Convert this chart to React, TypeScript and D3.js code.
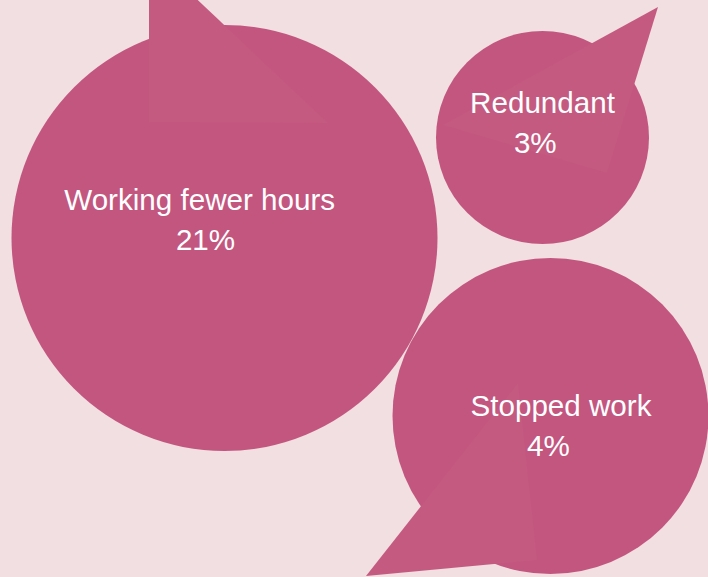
import React, { useEffect, useRef } from "react";
import * as d3 from "d3";

// share of workers affected
const categories = ["Working fewer hours", "Redundant", "Stopped work"];
const values = [21, 3, 4];

const W = 708;
const H = 577;

// bubble placement (centre, radius, tail triangle, label line centres)
const bubbleLayout = [
  {
    cx: 224.5, cy: 238, r: 213,
    tail: [[149, -46], [149, 122], [328, 123]] as [number, number][],
    labelX: [199.7, 205.5], labelY: [209.5, 250],
  },
  {
    cx: 542.5, cy: 137.5, r: 106.5,
    tail: [[658, 7], [443, 125], [607, 173]] as [number, number][],
    labelX: [542.5, 535.3], labelY: [113, 153],
  },
  {
    cx: 550.5, cy: 416, r: 158,
    tail: [[366, 576], [518, 383], [537, 560]] as [number, number][],
    labelX: [561, 548.5], labelY: [416, 455.5],
  },
];

const BG = "#f2dfe1";
const BUBBLE = "#c3567f";
const TAIL = "#c45a80";

export default function App() {
  const svgRef = useRef<SVGSVGElement>(null);

  useEffect(() => {
    if (!svgRef.current) return;
    const svg = d3.select(svgRef.current);
    svg.selectAll("*").remove();

    svg.append("rect").attr("width", W).attr("height", H).attr("fill", BG);

    const data = categories.map((c, i) => ({ name: c, value: values[i], ...bubbleLayout[i] }));

    svg
      .append("g")
      .selectAll("circle")
      .data(data)
      .enter()
      .append("circle")
      .attr("cx", (d) => d.cx)
      .attr("cy", (d) => d.cy)
      .attr("r", (d) => d.r)
      .attr("fill", BUBBLE);

    const line = d3.line<[number, number]>().curve(d3.curveLinearClosed);

    svg
      .append("g")
      .selectAll("path")
      .data(data)
      .enter()
      .append("path")
      .attr("d", (d) => line(d.tail))
      .attr("fill", TAIL);

    const labels = svg
      .append("g")
      .attr("fill", "#ffffff")
      .attr("font-family", "'Liberation Sans', Arial, Helvetica, sans-serif")
      .attr("font-size", 29.6)
      .attr("text-anchor", "middle");

    data.forEach((d) => {
      labels.append("text").attr("x", d.labelX[0]).attr("y", d.labelY[0]).text(d.name);
      labels.append("text").attr("x", d.labelX[1]).attr("y", d.labelY[1]).text(`${d.value}%`);
    });
  }, []);

  return (
    <svg
      ref={svgRef}
      width={W}
      height={H}
      style={{ position: "fixed", left: 0, top: 0, display: "block" }}
    />
  );
}
